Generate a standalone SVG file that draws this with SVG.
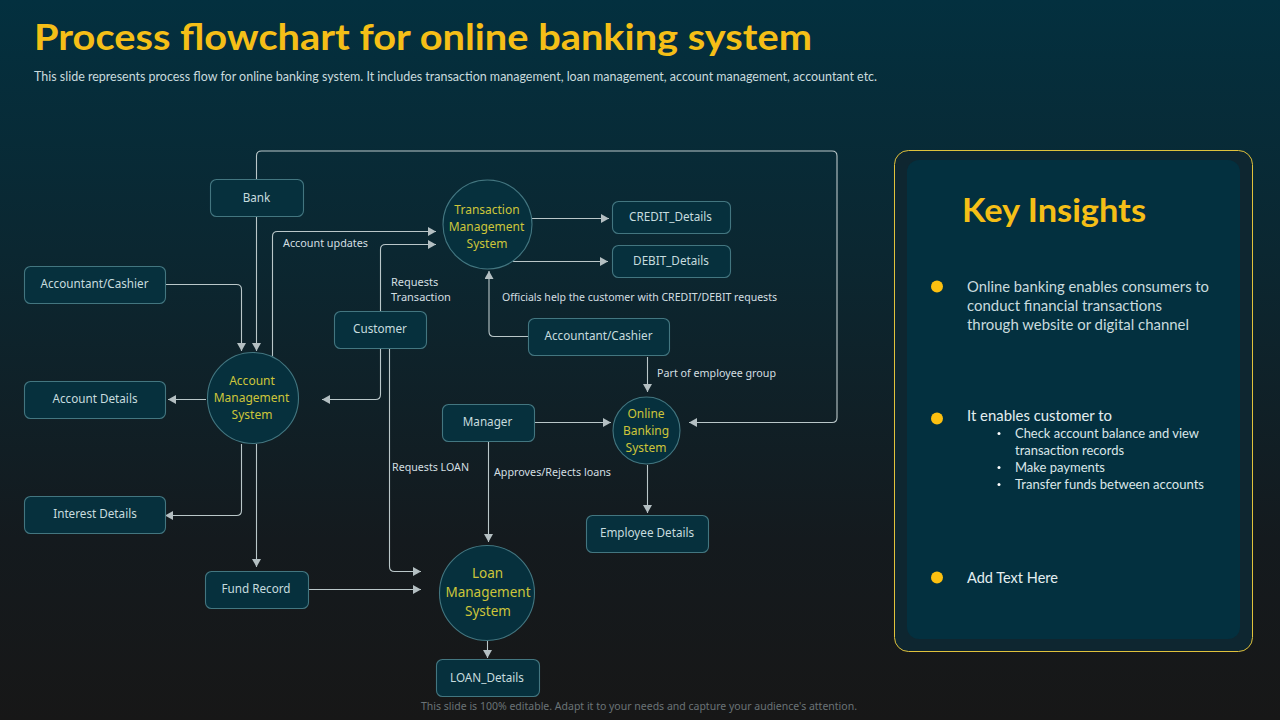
<svg xmlns="http://www.w3.org/2000/svg" width="1280" height="720" viewBox="0 0 1280 720">
<defs>
<linearGradient id="bg" x1="0" y1="0" x2="0" y2="1">
<stop offset="0" stop-color="#03303f"/>
<stop offset="0.35" stop-color="#0b2731"/>
<stop offset="0.75" stop-color="#141a1e"/>
<stop offset="1" stop-color="#171717"/>
</linearGradient>
<marker id="arr" markerUnits="userSpaceOnUse" markerWidth="9" markerHeight="9" refX="8" refY="4.5" orient="auto">
<path d="M0,0 L8,4.5 L0,9 Z" fill="#b4bfc2"/>
</marker>
</defs>
<style>
.box{fill:#06303d;stroke:#437680;stroke-width:1.1}
.circ{fill:#06303d;stroke:#437680;stroke-width:1.1}
.lbl{font-family:"Noto Sans","Open Sans",sans-serif;font-size:11.7px;fill:#c6dcdf;text-anchor:middle}
.sys{font-family:"Noto Sans","Open Sans",sans-serif;font-size:12px;fill:#cdc53a;text-anchor:middle}
.ann{font-family:"Noto Sans","Open Sans",sans-serif;font-size:11px;fill:#d3dfe1}
.con{fill:none;stroke:#bac7c9;stroke-width:1.1}
.arw{marker-end:url(#arr)}
.pt{font-family:"Lato","Open Sans",sans-serif;font-size:15px;fill:#c9dbde}
.dot{fill:#fdc010}
</style>
<rect width="1280" height="720" fill="url(#bg)"/>
<g id="title">
<text x="34" y="50" font-family="Lato,'Open Sans',sans-serif" font-weight="700" font-size="37" fill="#f5bf17" textLength="778" lengthAdjust="spacingAndGlyphs">Process flowchart for online banking system</text>
<text x="34" y="81" font-family="Lato,'Open Sans',sans-serif" font-size="12.5" fill="#c9dbde" textLength="843" lengthAdjust="spacingAndGlyphs">This slide represents process flow for online banking system. It includes transaction management,  loan management,  account management,  accountant etc.</text>
</g>
<g id="connectors">
<path class="con" d="M256.500,180V156Q256.500,151 261.500,151H832Q837,151 837,156V417.500Q837,422.500 832,422.500H689" marker-end="url(#arr)"/>
<path class="con arw" d="M256.500,216V351"/>
<path class="con arw" d="M166,284.500H236.500Q241.500,284.500 241.500,289.500V351"/>
<path class="con arw" d="M272.500,356V236.500Q272.500,231.500 277.500,231.500H436"/>
<path class="con arw" d="M380.500,311V249.500Q380.500,244.500 385.500,244.500H436"/>
<path class="con arw" d="M380.500,349V394.500Q380.500,399.500 375.500,399.500H322"/>
<path class="con arw" d="M206,399.500H168"/>
<path class="con arw" d="M241.500,444V510.500Q241.500,515.500 236.500,515.500H165"/>
<path class="con arw" d="M256.500,444V567"/>
<path class="con arw" d="M389.500,349V566.500Q389.500,571.500 394.500,571.500H421"/>
<path class="con arw" d="M309,589.500H421"/>
<path class="con arw" d="M532,218.500H609"/>
<path class="con arw" d="M513,261.500H608"/>
<path class="con arw" d="M528,336.500H494Q489,336.500 489,331.500V271"/>
<path class="con arw" d="M647.500,357V392"/>
<path class="con arw" d="M535,422.500H611"/>
<path class="con arw" d="M647.500,465V513"/>
<path class="con arw" d="M488.500,442V542"/>
<path class="con arw" d="M487.500,641V658"/>
</g>
<g id="bank"><rect class="box" x="210.500" y="179.500" width="93" height="37" rx="6"/><text class="lbl" x="256.500" y="202">Bank</text></g>
<g id="accountant-left"><rect class="box" x="24.500" y="266.500" width="141" height="37" rx="6"/><text class="lbl" x="94.500" y="288">Accountant/Cashier</text></g>
<g id="account-details"><rect class="box" x="24.500" y="381.500" width="141" height="37" rx="6"/><text class="lbl" x="95" y="403">Account Details</text></g>
<g id="interest-details"><rect class="box" x="24.500" y="496.500" width="141" height="37" rx="6"/><text class="lbl" x="95" y="518">Interest Details</text></g>
<g id="fund-record"><rect class="box" x="205.500" y="571.500" width="103" height="37" rx="6"/><text class="lbl" x="256" y="593">Fund Record</text></g>
<g id="customer"><rect class="box" x="334.500" y="311.500" width="92" height="37" rx="6"/><text class="lbl" x="380" y="333">Customer</text></g>
<g id="credit"><rect class="box" x="612.500" y="201.500" width="118" height="32" rx="6"/><text class="lbl" x="670.500" y="221">CREDIT_Details</text></g>
<g id="debit"><rect class="box" x="612.500" y="245.500" width="118" height="32" rx="6"/><text class="lbl" x="671" y="265">DEBIT_Details</text></g>
<g id="accountant-right"><rect class="box" x="528.500" y="318.500" width="141" height="37" rx="6"/><text class="lbl" x="598.500" y="340">Accountant/Cashier</text></g>
<g id="manager"><rect class="box" x="442.500" y="404.500" width="92" height="37" rx="6"/><text class="lbl" x="487.500" y="426">Manager</text></g>
<g id="employee"><rect class="box" x="586.500" y="515.500" width="122" height="37" rx="6"/><text class="lbl" x="647" y="537">Employee Details</text></g>
<g id="loan-details"><rect class="box" x="436.500" y="659.500" width="103" height="37" rx="6"/><text class="lbl" x="487" y="682">LOAN_Details</text></g>
<g id="account-system"><circle class="circ" cx="253" cy="398" r="45.500"/><text class="sys" x="252" y="385">Account</text><text class="sys" x="251.500" y="402">Management</text><text class="sys" x="252" y="419">System</text></g>
<g id="transaction-system"><circle class="circ" cx="487.500" cy="224.500" r="44.500"/><text class="sys" x="487" y="214">Transaction</text><text class="sys" x="486.500" y="231">Management</text><text class="sys" x="487" y="248">System</text></g>
<g id="online-system"><circle class="circ" cx="646.500" cy="430.500" r="33.500"/><text class="sys" x="646" y="418">Online</text><text class="sys" x="646" y="435">Banking</text><text class="sys" x="646" y="452">System</text></g>
<g id="loan-system"><circle class="circ" cx="487" cy="593" r="47.500"/><text class="sys" style="font-size:13.500px" x="487.500" y="578">Loan</text><text class="sys" style="font-size:13.500px" x="488" y="597">Management</text><text class="sys" style="font-size:13.500px" x="488" y="616">System</text></g>
<g id="labels">
<text class="ann" x="283" y="247" textLength="85" lengthAdjust="spacingAndGlyphs">Account updates</text>
<text class="ann" x="391" y="286">Requests</text>
<text class="ann" x="391" y="301">Transaction</text>
<text class="ann" x="392" y="471" textLength="77" lengthAdjust="spacingAndGlyphs">Requests LOAN</text>
<text class="ann" x="502" y="301" textLength="275" lengthAdjust="spacingAndGlyphs">Officials help the customer with CREDIT/DEBIT requests</text>
<text class="ann" x="657" y="377" textLength="119" lengthAdjust="spacingAndGlyphs">Part of employee group</text>
<text class="ann" x="494" y="476" textLength="117" lengthAdjust="spacingAndGlyphs">Approves/Rejects loans</text>
</g>
<g id="insights">
<rect x="894.500" y="150.500" width="358" height="501" rx="14" fill="#0e2630" stroke="#e0c23c" stroke-width="1"/>
<rect x="907" y="160" width="333" height="479" rx="12" fill="#03303f"/>
<text x="962" y="222" font-family="Lato,'Open Sans',sans-serif" font-weight="700" font-size="33" fill="#f5bf17" textLength="184" lengthAdjust="spacingAndGlyphs">Key Insights</text>
<circle class="dot" cx="937" cy="286.500" r="6"/>
<text class="pt" x="967" y="292" textLength="242" lengthAdjust="spacingAndGlyphs">Online banking enables consumers to</text>
<text class="pt" x="967" y="311" textLength="195" lengthAdjust="spacingAndGlyphs">conduct financial transactions</text>
<text class="pt" x="967" y="330" textLength="222" lengthAdjust="spacingAndGlyphs">through website or digital channel</text>
<circle class="dot" cx="937" cy="418.500" r="6"/>
<text class="pt" x="967" y="421" style="fill:#e4eef0" textLength="145" lengthAdjust="spacingAndGlyphs">It enables customer to</text>
<g font-family="Lato,'Open Sans',sans-serif" font-size="14" fill="#dbe7e9">
<circle cx="999" cy="433.500" r="1.500" fill="#fff"/>
<text x="1015" y="438" textLength="184" lengthAdjust="spacingAndGlyphs">Check account balance and view</text>
<text x="1015" y="455" textLength="109" lengthAdjust="spacingAndGlyphs">transaction records</text>
<circle cx="999" cy="467.500" r="1.500" fill="#fff"/>
<text x="1015" y="472" textLength="90" lengthAdjust="spacingAndGlyphs">Make payments</text>
<circle cx="999" cy="484.500" r="1.500" fill="#fff"/>
<text x="1015" y="489" textLength="189" lengthAdjust="spacingAndGlyphs">Transfer funds between accounts</text>
</g>
<circle class="dot" cx="937" cy="577.500" r="6"/>
<text class="pt" x="967" y="583" style="fill:#e4eef0" textLength="91" lengthAdjust="spacingAndGlyphs">Add Text Here</text>
</g>
<text id="footer" x="421" y="710" font-family="'Noto Sans','Open Sans',sans-serif" font-size="11" fill="#6a7376" textLength="436" lengthAdjust="spacingAndGlyphs">This slide is 100% editable. Adapt it to your needs and capture your audience's attention.</text>
</svg>
